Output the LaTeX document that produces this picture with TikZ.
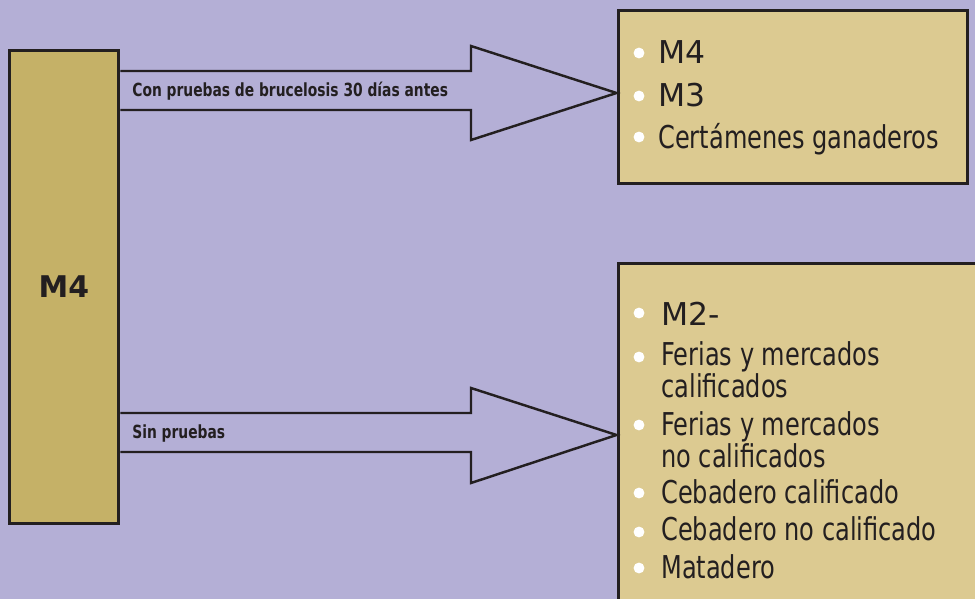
\documentclass[tikz,border=0pt]{standalone}
\usepackage{fontspec}
\setmainfont{DejaVu Sans}
\newfontfamily\condfont[FakeStretch=0.85]{DejaVu Sans Condensed}
\definecolor{lilac}{HTML}{B4AFD6}
\definecolor{olive}{HTML}{C5B167}
\definecolor{sand}{HTML}{DCCA91}
\definecolor{ink}{HTML}{231F20}
\tikzset{box/.style={rectangle,draw=ink,line width=1.7pt,inner sep=0pt}}
\tikzset{item/.style={anchor=base west,inner sep=0pt,text=ink,font=\condfont\fontsize{17.9}{20}\selectfont}}
\tikzset{bigitem/.style={item,font=\fontsize{17.9}{20}\selectfont}}
\tikzset{dot/.style={circle,fill=white,minimum size=6.2pt,inner sep=0pt}}
\tikzset{lbl/.style={anchor=base west,inner sep=0pt,text=ink,font=\condfont\bfseries\fontsize{10.3}{12}\selectfont}}
\tikzset{blockarrow/.style={draw=ink,line width=1.4pt,line join=miter}}

\begin{document}
\begin{tikzpicture}[x=0.02cm,y=-0.02cm]
      \fill[lilac] (0,0) rectangle (975,599);
      \useasboundingbox (0,0) rectangle (975,599);
      \clip (0,0) rectangle (975,599);
      \node[box,fill=olive,minimum width=2.2cm,minimum height=9.48cm,font=\bfseries\fontsize{17}{20}\selectfont,text=ink] (src) at (64,287) {M4};
      \node[box,fill=sand,minimum width=7cm,minimum height=3.48cm] (dst1) at (793,97) {};
      \node[box,fill=sand,minimum width=7.64cm,minimum height=7.74cm] (dst2) at (809,456.5) {};
      % arrows
      \draw[blockarrow] (src.east |- 0,71) -- (471,71) -- (471,46) -- (dst1.west |- 0,93) -- (471,140) -- (471,110) -- (src.east |- 0,110);
      \draw[blockarrow] (src.east |- 0,413) -- (471,413) -- (471,388) -- (dst2.west |- 0,435) -- (471,483) -- (471,452) -- (src.east |- 0,452);
      \node[lbl] (con) at (132,96) {Con pruebas de brucelosis 30 días antes};
      \node[lbl] (sin) at (132,438) {Sin pruebas};
      % first list
      \foreach \y in {53,96,137} \node[dot] at (639,\y) {};
      \node[bigitem] (m4) at (658,63) {M4};
      \node[bigitem] (m3) at (658,106) {M3};
      \node[item] (cert) at (658,148) {Certámenes ganaderos};
      % second list
      \foreach \y in {313,357,425,493,532,568} \node[dot] at (639,\y) {};
      \node[bigitem] (m2) at (661,325) {M2-};
      \node[item] (fer1) at (661,365) {Ferias y mercados};
      \node[item] (cal1) at (661,397) {calificados};
      \node[item] (fer2) at (661,435) {Ferias y mercados};
      \node[item] (cal2) at (661,467) {no calificados};
      \node[item] (ceb1) at (661,503) {Cebadero calificado};
      \node[item] (ceb2) at (661,540) {Cebadero no calificado};
      \node[item] (mat) at (661,578) {Matadero};
\end{tikzpicture}
\end{document}
